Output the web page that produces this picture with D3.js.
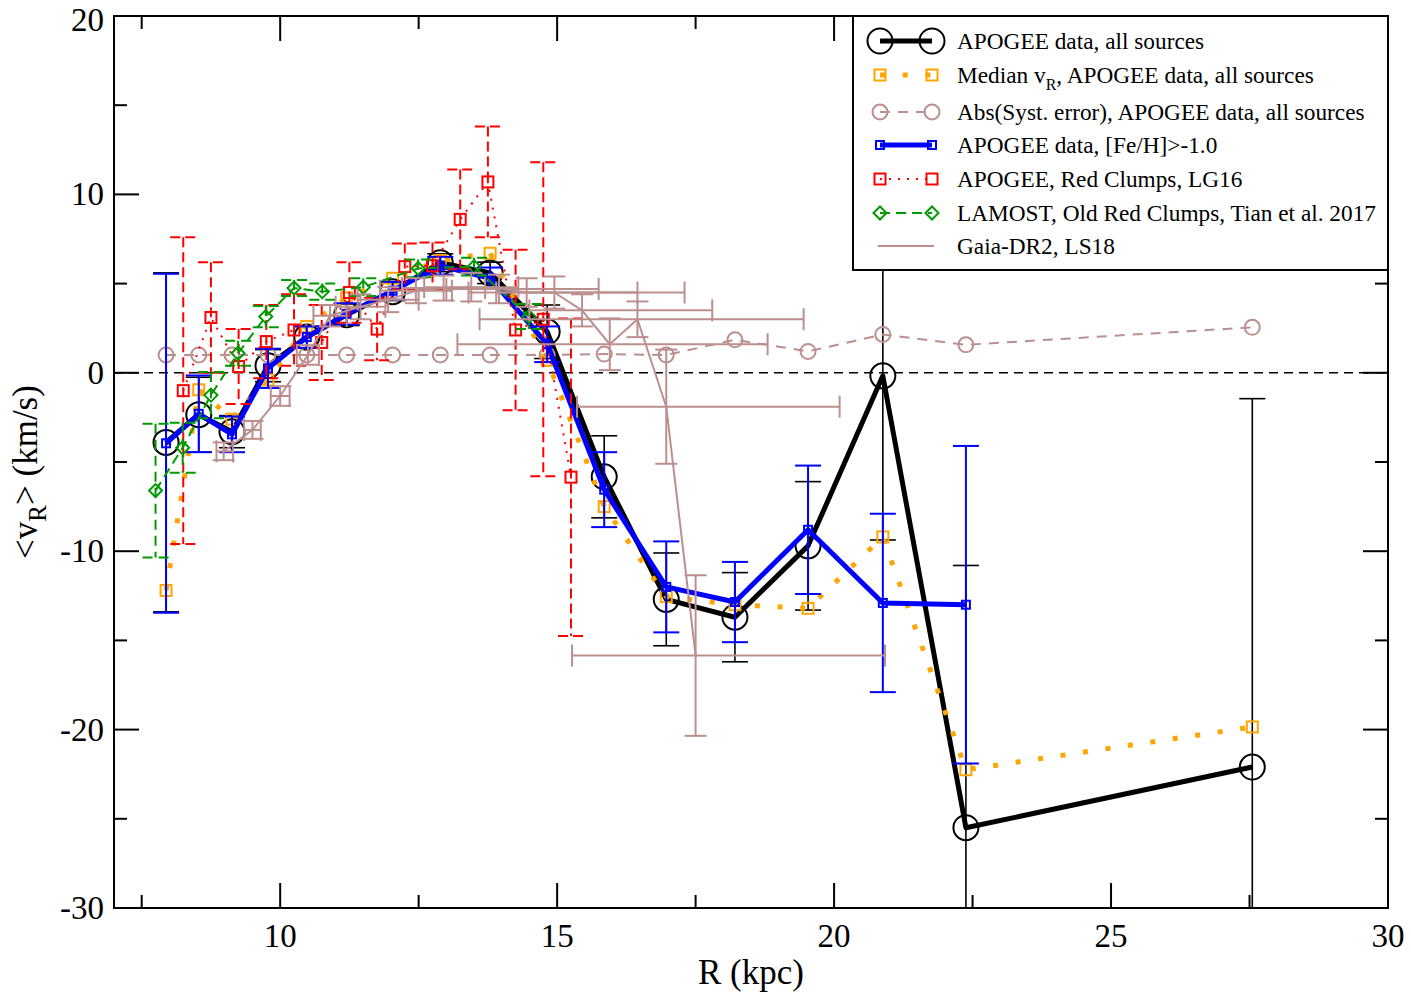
<!DOCTYPE html>
<html>
<head>
<meta charset="utf-8">
<script src="https://cdn.jsdelivr.net/npm/d3@7"></script>
<style>
  body { margin: 0; background: #fff; }
  text { font-family: "Liberation Serif", "DejaVu Serif", serif; }
</style>
</head>
<body>
<svg id="chart"></svg>
<script>
// APOGEE data, all sources (mean vR with errors)
const apogeeR   = [7.94, 8.53, 9.13, 9.78, 10.48, 11.2, 12.03, 12.89, 13.79, 14.82, 15.85, 16.97, 18.21, 19.53, 20.88, 22.38, 27.55];
const apogeeV   = [-3.9, -2.35, -3.3, 0.4, 2.0, 3.25, 4.55, 6.17, 5.6, 2.3, -5.83, -12.7, -13.7, -9.7, -0.17, -25.5, -22.1];
const apogeeErr = [9.5, 2.1, 0.9, 0.9, 0.6, 0.6, 0.5, 0.5, 0.6, 1.5, 2.3, 2.6, 2.5, 3.6, 9.2, 14.7, 20.65];
// median vR, all sources
const medianV   = [-12.2, -0.95, -2.6, -0.4, 2.6, 4.2, 5.3, 6.3, 6.7, 0.7, -7.5, -12.55, -13.0, -13.2, -9.2, -22.25, -19.85];
// abs(systematic error)
const systV     = [1.0, 1.0, 1.0, 1.0, 1.0, 1.0, 1.0, 1.0, 1.0, 1.0, 1.05, 1.0, 1.85, 1.2, 2.15, 1.57, 2.55];
// APOGEE [Fe/H] > -1.0
const feR   = [7.94, 8.53, 9.13, 9.78, 10.48, 11.2, 12.03, 12.89, 13.79, 14.82, 15.85, 16.97, 18.21, 19.53, 20.88, 22.38];
const feV   = [-3.95, -2.3, -3.45, 0.25, 2.0, 3.3, 4.6, 6.0, 5.3, 1.6, -6.55, -12.0, -12.85, -8.8, -12.9, -13.0];
const feErr = [9.5, 2.15, 1.0, 1.1, 0.6, 0.6, 0.5, 0.5, 0.6, 1.0, 2.1, 2.55, 2.25, 3.6, 5.0, 8.9];
// APOGEE red clumps, LG16
const rcR   = [8.25, 8.75, 9.25, 9.75, 10.25, 10.75, 11.25, 11.75, 12.25, 12.75, 13.25, 13.75, 14.25, 14.75, 15.25];
const rcV   = [-1.0, 3.1, 0.35, 1.75, 2.4, 1.7, 4.5, 2.45, 5.95, 6.0, 8.6, 10.7, 2.4, 3.0, -5.85];
const rcErr = [8.6, 3.1, 2.1, 2.05, 2.0, 2.1, 1.7, 1.75, 1.3, 1.3, 2.8, 3.1, 4.5, 8.8, 8.9];
// LAMOST old red clumps, Tian et al. 2017
const lmR   = [7.75, 8.24, 8.75, 9.24, 9.74, 10.25, 10.76, 11.5, 12.49, 13.5, 14.49];
const lmV   = [-6.6, -4.2, -1.25, 1.1, 3.15, 4.75, 4.55, 4.8, 5.85, 5.95, 3.15];
const lmErr = [3.75, 1.4, 1.3, 0.7, 0.6, 0.45, 0.45, 0.5, 0.5, 0.5, 0.7];
// Gaia-DR2, LS18 (R range low/high, vR error)
const gaiaR   = [8.98, 9.5, 10.0, 10.5, 10.9, 11.45, 11.95, 12.45, 12.95, 13.45, 13.95, 14.45, 14.95, 15.45, 15.95, 16.45, 16.97, 17.5];
const gaiaV   = [-4.4, -3.2, -1.3, 1.0, 3.2, 3.7, 4.1, 4.6, 4.75, 4.8, 4.7, 4.5, 4.5, 3.5, 1.6, 3.0, -1.9, -15.85];
const gaiaRlo = [8.85, 9.35, 9.83, 10.3, 10.6, 11.0, 11.4, 11.8, 12.2, 12.6, 13.0, 13.4, 13.9, 14.5, 13.2, 13.6, 15.36, 15.27];
const gaiaRhi = [9.15, 9.65, 10.17, 10.7, 11.2, 11.9, 12.5, 13.1, 13.7, 14.3, 15.75, 16.45, 17.3, 17.8, 18.8, 19.45, 20.1, 20.92];
const gaiaErr = [0.5, 0.5, 0.55, 0.55, 0.6, 0.7, 0.7, 0.7, 0.7, 0.8, 0.8, 0.8, 0.9, 0.9, 1.45, 1.0, 3.2, 4.5];

const xTicks = [10, 15, 20, 25, 30];
const yTicks = [-30, -20, -10, 0, 10, 20];

const width = 1411, height = 996;
const pLeft = 114, pRight = 1388, pTop = 16, pBottom = 908;

const x = d3.scaleLinear().domain([7, 30]).range([pLeft, pRight]);
const y = d3.scaleLinear().domain([-30, 20]).range([pBottom, pTop]);

const svg = d3.select("#chart").attr("width", width).attr("height", height);

svg.append("clipPath").attr("id", "plotclip")
  .append("rect").attr("x", pLeft).attr("y", pTop).attr("width", pRight - pLeft).attr("height", pBottom - pTop);

const plot = svg.append("g").attr("clip-path", "url(#plotclip)");

const BLACK = "#000", ORANGE = "#ffa500", ROSY = "#bc8f8f", BLUE = "#0000ff", RED = "#ff0000", GREEN = "#009a00";

function pts(R, V) { return R.map((r, i) => [x(r), y(V[i])]); }

function yErrors(g, R, V, E, color, w, cap, dash) {
  R.forEach((r, i) => {
    const cx = x(r), y1 = y(V[i] + E[i]), y2 = y(V[i] - E[i]);
    const s = g.append("g").attr("stroke", color).attr("stroke-width", w).attr("stroke-dasharray", dash || null);
    s.append("line").attr("x1", cx).attr("x2", cx).attr("y1", y1).attr("y2", y2);
    s.append("line").attr("x1", cx - cap / 2).attr("x2", cx + cap / 2).attr("y1", y1).attr("y2", y1);
    s.append("line").attr("x1", cx - cap / 2).attr("x2", cx + cap / 2).attr("y1", y2).attr("y2", y2);
  });
}

function line(g, data, color, w, dash) {
  g.append("path").attr("d", d3.line()(data)).attr("fill", "none")
    .attr("stroke", color).attr("stroke-width", w).attr("stroke-dasharray", dash || null)
    .attr("stroke-linejoin", "round");
}

function squares(g, data, color, s, w) {
  g.selectAll(null).data(data).join("rect")
    .attr("x", d => d[0] - s / 2).attr("y", d => d[1] - s / 2)
    .attr("width", s).attr("height", s)
    .attr("fill", "none").attr("stroke", color).attr("stroke-width", w);
}

function circles(g, data, color, r, w) {
  g.selectAll(null).data(data).join("circle")
    .attr("cx", d => d[0]).attr("cy", d => d[1]).attr("r", r)
    .attr("fill", "none").attr("stroke", color).attr("stroke-width", w);
}

function diamonds(g, data, color, r, w) {
  g.selectAll(null).data(data).join("path")
    .attr("d", d => `M${d[0]},${d[1] - r}L${d[0] + r},${d[1]}L${d[0]},${d[1] + r}L${d[0] - r},${d[1]}Z`)
    .attr("fill", "none").attr("stroke", color).attr("stroke-width", w);
}

// zero line
plot.append("line").attr("x1", pLeft).attr("x2", pRight).attr("y1", y(0)).attr("y2", y(0))
  .attr("stroke", "#000").attr("stroke-width", 1.6).attr("stroke-dasharray", "9,6");

// APOGEE all sources
yErrors(plot, apogeeR, apogeeV, apogeeErr, BLACK, 1.6, 26);
line(plot, pts(apogeeR, apogeeV), BLACK, 5);
circles(plot, pts(apogeeR, apogeeV), BLACK, 12.5, 2);

// median
line(plot, pts(apogeeR, medianV), ORANGE, 5, "5,17.7");
squares(plot, pts(apogeeR, medianV), ORANGE, 11, 2);

// abs syst error
line(plot, pts(apogeeR, systV), ROSY, 2, "10,8");
circles(plot, pts(apogeeR, systV), ROSY, 7.5, 2);

// Fe/H > -1
yErrors(plot, feR, feV, feErr, BLUE, 2, 26);
line(plot, pts(feR, feV), BLUE, 5);
squares(plot, pts(feR, feV), BLUE, 8, 2);

// red clumps LG16
yErrors(plot, rcR, rcV, rcErr, RED, 2, 26, "10,5");
line(plot, pts(rcR, rcV), RED, 2, "2,7");
squares(plot, pts(rcR, rcV), RED, 11, 2);

// LAMOST
yErrors(plot, lmR, lmV, lmErr, GREEN, 2, 26, "10,6");
line(plot, pts(lmR, lmV), GREEN, 2, "10,6");
diamonds(plot, pts(lmR, lmV), GREEN, 6.5, 2);

// Gaia-DR2
const gaia = plot.append("g");
yErrors(gaia, gaiaR, gaiaV, gaiaErr, ROSY, 2, 22);
gaiaR.forEach((r, i) => {
  const cy = y(gaiaV[i]), x1 = x(gaiaRlo[i]), x2 = x(gaiaRhi[i]);
  const s = gaia.append("g").attr("stroke", ROSY).attr("stroke-width", 2);
  s.append("line").attr("x1", x1).attr("x2", x2).attr("y1", cy).attr("y2", cy);
  s.append("line").attr("x1", x1).attr("x2", x1).attr("y1", cy - 11).attr("y2", cy + 11);
  s.append("line").attr("x1", x2).attr("x2", x2).attr("y1", cy - 11).attr("y2", cy + 11);
});
line(gaia, pts(gaiaR, gaiaV), ROSY, 2);

// axes: ticks inward on all four sides
const axes = svg.append("g").attr("stroke", "#000").attr("stroke-width", 2);
d3.range(7.5, 30.01, 2.5).forEach(v => {
  const len = (v % 5 === 0) ? 25 : 13;
  axes.append("line").attr("x1", x(v)).attr("x2", x(v)).attr("y1", pBottom).attr("y2", pBottom - len);
  axes.append("line").attr("x1", x(v)).attr("x2", x(v)).attr("y1", pTop).attr("y2", pTop + len);
});
d3.range(-30, 20.01, 5).forEach(v => {
  const len = (v % 10 === 0) ? 25 : 13;
  axes.append("line").attr("x1", pLeft).attr("x2", pLeft + len).attr("y1", y(v)).attr("y2", y(v));
  axes.append("line").attr("x1", pRight).attr("x2", pRight - len).attr("y1", y(v)).attr("y2", y(v));
});
svg.append("rect").attr("x", pLeft).attr("y", pTop).attr("width", pRight - pLeft).attr("height", pBottom - pTop)
  .attr("fill", "none").attr("stroke", "#000").attr("stroke-width", 2);

svg.append("g").selectAll("text").data(xTicks).join("text")
  .attr("x", d => x(d)).attr("y", 947).attr("text-anchor", "middle")
  .attr("font-size", 33).text(d => d);
svg.append("g").selectAll("text").data(yTicks).join("text")
  .attr("x", 104).attr("y", d => Math.max(y(d) + 11, 31)).attr("text-anchor", "end")
  .attr("font-size", 33).text(d => d);

svg.append("text").attr("x", (pLeft + pRight) / 2).attr("y", 984).attr("text-anchor", "middle")
  .attr("font-size", 35).text("R (kpc)");

const yt = svg.append("text").attr("transform", "translate(37,472) rotate(-90)")
  .attr("text-anchor", "middle").attr("font-size", 35);
yt.append("tspan").text("<v");
yt.append("tspan").attr("dy", 9).attr("font-size", 25).text("R");
yt.append("tspan").attr("dy", -9).text("> (km/s)");

// legend
const lg = svg.append("g");
lg.append("rect").attr("x", 853).attr("y", 16).attr("width", 535).attr("height", 254)
  .attr("fill", "#fff").attr("stroke", "#000").attr("stroke-width", 2);
const rows = [41, 75, 112, 145, 179, 213, 246];
const lx1 = 880, lx2 = 932;
// 1
line(lg, [[lx1, rows[0]], [lx2, rows[0]]], BLACK, 5);
circles(lg, [[lx1, rows[0]], [lx2, rows[0]]], BLACK, 12.5, 2);
// 2
line(lg, [[lx1, rows[1]], [lx2, rows[1]]], ORANGE, 5, "5,17.7");
squares(lg, [[lx1, rows[1]], [lx2, rows[1]]], ORANGE, 11, 2);
// 3
line(lg, [[lx1, rows[2]], [lx2, rows[2]]], ROSY, 2, "10,8");
circles(lg, [[lx1, rows[2]], [lx2, rows[2]]], ROSY, 7.5, 2);
// 4
line(lg, [[lx1, rows[3]], [lx2, rows[3]]], BLUE, 5);
squares(lg, [[lx1, rows[3]], [lx2, rows[3]]], BLUE, 8, 2);
// 5
line(lg, [[lx1, rows[4]], [lx2, rows[4]]], RED, 2, "2,7");
squares(lg, [[lx1, rows[4]], [lx2, rows[4]]], RED, 11, 2);
// 6
line(lg, [[lx1, rows[5]], [lx2, rows[5]]], GREEN, 2, "10,6");
diamonds(lg, [[lx1, rows[5]], [lx2, rows[5]]], GREEN, 6.5, 2);
// 7
line(lg, [[lx1 - 2, rows[6]], [lx2 + 2, rows[6]]], ROSY, 2);

const labels = ["APOGEE data, all sources", null, "Abs(Syst. error), APOGEE data, all sources",
  "APOGEE data, [Fe/H]>-1.0", "APOGEE, Red Clumps, LG16", "LAMOST, Old Red Clumps, Tian et al. 2017", "Gaia-DR2, LS18"];
labels.forEach((t, i) => {
  const tx = lg.append("text").attr("x", 957).attr("y", rows[i] + 8).attr("font-size", 23.3);
  if (t) tx.text(t);
  else {
    tx.append("tspan").text("Median v");
    tx.append("tspan").attr("dy", 7).attr("font-size", 16).text("R");
    tx.append("tspan").attr("dy", -7).text(", APOGEE data, all sources");
  }
});
</script>
</body>
</html>
